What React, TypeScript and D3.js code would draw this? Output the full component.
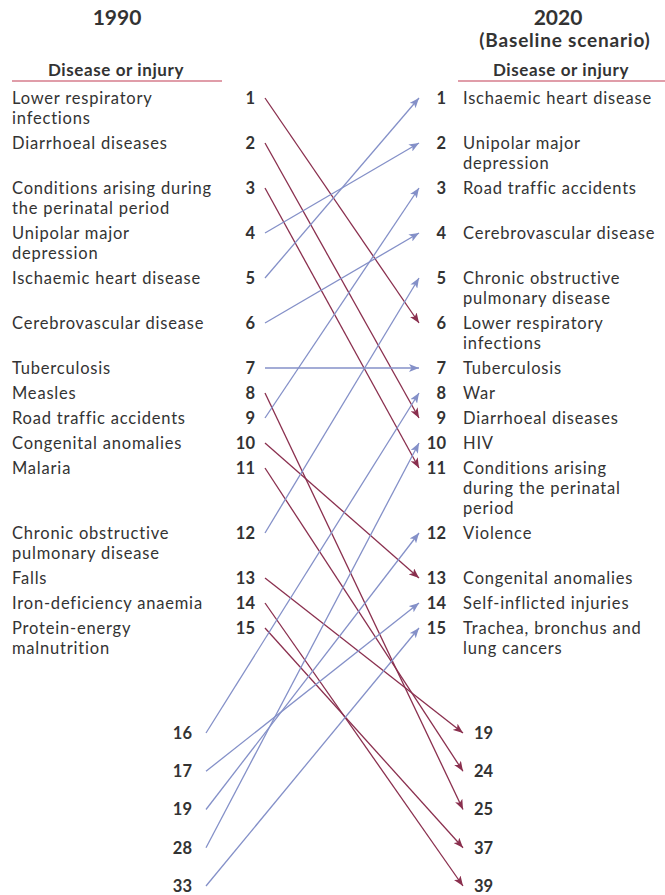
import React from "react";
import * as d3 from "d3";

// ---- Data ----
const labels1990: string[][] = [
  ["Lower respiratory", "infections"],
  ["Diarrhoeal diseases"],
  ["Conditions arising during", "the perinatal period"],
  ["Unipolar major", "depression"],
  ["Ischaemic heart disease"],
  ["Cerebrovascular disease"],
  ["Tuberculosis"],
  ["Measles"],
  ["Road traffic accidents"],
  ["Congenital anomalies"],
  ["Malaria"],
  ["Chronic obstructive", "pulmonary disease"],
  ["Falls"],
  ["Iron-deficiency anaemia"],
  ["Protein-energy", "malnutrition"],
];

const labels2020: string[][] = [
  ["Ischaemic heart disease"],
  ["Unipolar major", "depression"],
  ["Road traffic accidents"],
  ["Cerebrovascular disease"],
  ["Chronic obstructive", "pulmonary disease"],
  ["Lower respiratory", "infections"],
  ["Tuberculosis"],
  ["War"],
  ["Diarrhoeal diseases"],
  ["HIV"],
  ["Conditions arising", "during the perinatal", "period"],
  ["Violence"],
  ["Congenital anomalies"],
  ["Self-inflicted injuries"],
  ["Trachea, bronchus and", "lung cancers"],
];

const lowRanks1990 = [16, 17, 19, 28, 33];
const lowRanks2020 = [19, 24, 25, 37, 39];

// [rank 1990, rank 2020]
const rankChanges: [number, number][] = [
  [1, 6], [2, 9], [3, 11], [4, 2], [5, 1], [6, 4], [7, 7], [8, 25],
  [9, 3], [10, 13], [11, 24], [12, 5], [13, 19], [14, 39], [15, 37],
  [16, 8], [17, 14], [19, 12], [28, 10], [33, 15],
];

// ---- Layout ----
const W = 665, H = 895;
const FONT = "Lato, 'Open Sans', sans-serif";
const TEXT = "#333333";
const BLUE = "#8490c8";
const RED = "#8a2f4e";
const RULE = "#c23c55";
const LINE_H = 20;
const LABEL_FS = 16.5;
const LABEL_LS = 0.8;

const topCount = labels1990.length;
// cumulative row positions in "line units"
const rowUnits: number[] = [];
{
  let u = 0;
  for (let i = 0; i < topCount; i++) {
    rowUnits.push(u);
    const lines = Math.max(labels1990[i].length, labels2020[i].length);
    u += lines + 0.25;
  }
}
const yUnit = d3.scaleLinear().domain([0, 1]).range([98, 118]);
const yTop = (rank: number) => yUnit(rowUnits[rank - 1]);
const yLowL = d3.scalePoint<number>().domain(lowRanks1990).range([733, 886]);
const yLowR = d3.scalePoint<number>().domain(lowRanks2020).range([733, 886]);

const y1990 = (r: number) => (r <= topCount ? yTop(r) : (yLowL(r) as number));
const y2020 = (r: number) => (r <= topCount ? yTop(r) : (yLowR(r) as number));
const x1990 = (r: number) => (r <= topCount ? 265 : 206);
const x2020 = (r: number) => (r <= topCount ? 419 : 463);

function Label({ x, y, lines }: { x: number; y: number; lines: string[] }) {
  return (
    <g>
      {lines.map((t, j) => (
        <text key={j} x={x} y={y + j * LINE_H} dy="0.35em" fontSize={LABEL_FS} letterSpacing={LABEL_LS} fill={TEXT}>{t}</text>
      ))}
    </g>
  );
}

export default function App() {
  const lineGen = d3.line<[number, number]>();
  return (
    <svg
      width={W}
      height={H}
      style={{ position: "absolute", left: 0, top: 0, background: "#fff" }}
      fontFamily={FONT}
    >
      <defs>
        {[["arrBlue", BLUE], ["arrRed", RED]].map(([id, c]) => (
          <marker
            key={id}
            id={id}
            viewBox="0 0 10 8"
            refX={10}
            refY={4}
            markerWidth={10}
            markerHeight={8}
            markerUnits="userSpaceOnUse"
            orient="auto"
          >
            <path d="M0,0 L10,4 L0,8 L2.5,4 Z" fill={c} />
          </marker>
        ))}
      </defs>

      {/* Titles */}
      <text x={117} y={18} dy="0.35em" textAnchor="middle" fontWeight="bold" fontSize={21} fill={TEXT}>1990</text>
      <text x={558} y={18} dy="0.35em" textAnchor="middle" fontWeight="bold" fontSize={21} fill={TEXT}>2020</text>
      <text x={565} y={40} dy="0.35em" textAnchor="middle" fontWeight="bold" fontSize={19} fill={TEXT} letterSpacing={0.8}>(Baseline scenario)</text>
      <text x={116} y={70} dy="0.35em" textAnchor="middle" fontWeight="bold" fontSize={17} fill={TEXT} letterSpacing={0.6}>Disease or injury</text>
      <text x={561} y={70} dy="0.35em" textAnchor="middle" fontWeight="bold" fontSize={17} fill={TEXT} letterSpacing={0.6}>Disease or injury</text>
      <line x1={12} x2={222} y1={81} y2={81} stroke={RULE} strokeWidth={1.2} />
      <line x1={458} x2={665} y1={81} y2={81} stroke={RULE} strokeWidth={1.2} />

      {/* Left labels */}
      {labels1990.map((lines, i) => (
        <g key={"l" + i}>
          <Label x={12} y={yTop(i + 1)} lines={lines} />
          <text x={255} y={yTop(i + 1)} dy="0.35em" textAnchor="end" fontWeight="bold" fontSize={16.5} fill={TEXT}>{i + 1}</text>
        </g>
      ))}

      {/* Right labels */}
      {labels2020.map((lines, i) => (
        <g key={"r" + i}>
          <text x={446} y={yTop(i + 1)} dy="0.35em" textAnchor="end" fontWeight="bold" fontSize={16.5} fill={TEXT}>{i + 1}</text>
          <Label x={463} y={yTop(i + 1)} lines={lines} />
        </g>
      ))}

      {/* Low ranks */}
      {lowRanks1990.map((r) => (
        <text key={"ll" + r} x={192} y={yLowL(r)} dy="0.35em" textAnchor="end" fontWeight="bold" fontSize={16.5} fill={TEXT}>{r}</text>
      ))}
      {lowRanks2020.map((r) => (
        <text key={"lr" + r} x={474} y={yLowR(r)} dy="0.35em" textAnchor="start" fontWeight="bold" fontSize={16.5} fill={TEXT}>{r}</text>
      ))}

      {/* Arrows */}
      {rankChanges.map(([a, b]) => {
        const up = b <= a;
        return (
          <path
            key={"a" + a}
            d={lineGen([[x1990(a), y1990(a)], [x2020(b), y2020(b)]]) || ""}
            stroke={up ? BLUE : RED}
            strokeWidth={1.3}
            fill="none"
            markerEnd={`url(#${up ? "arrBlue" : "arrRed"})`}
          />
        );
      })}
    </svg>
  );
}
